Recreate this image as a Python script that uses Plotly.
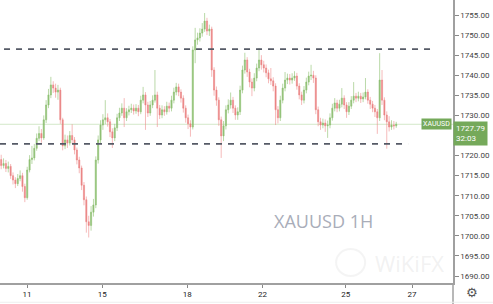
import plotly.graph_objects as go

# ---- data (2-hour bars) ----
opens = [1719.0,1717.5,1718.0,1716.8,1717.3,1715.0,1713.9,1713.0,1714.3,1715.0,
         1712.3,1709.5,1716.4,1719.0,1719.4,1721.8,1724.3,1725.5,1724.4,1728.9,
         1732.6,1735.1,1737.6,1736.8,1735.8,1736.3,1728.9,1722.4,1723.9,1723.1,
         1725.0,1723.9,1721.4,1718.9,1716.9,1712.6,1709.0,1703.5,1702.6,1705.9,
         1707.7,1718.9,1723.9,1727.6,1728.9,1729.4,1728.4,1725.9,1724.4,1726.9,
         1729.4,1730.6,1731.8,1729.4,1730.9,1731.4,1731.8,1731.1,1731.8,1730.9,
         1733.8,1735.1,1732.6,1730.6,1732.6,1733.8,1735.1,1731.8,1730.1,1731.4,
         1730.9,1732.3,1731.8,1733.8,1735.8,1737.1,1735.8,1734.3,1731.8,1729.4,
         1727.9,1727.1,1746.3,1748.8,1749.3,1750.5,1751.5,1753.5,1751.0,1751.5,
         1741.3,1736.3,1733.8,1728.9,1724.9,1727.4,1731.4,1732.6,1733.8,1731.8,
         1730.1,1730.9,1736.3,1741.3,1743.8,1740.8,1738.3,1736.8,1739.3,1741.8,
         1743.8,1742.6,1741.8,1740.6,1739.1,1738.6,1737.3,1731.4,1729.4,1733.8,
         1736.8,1738.8,1739.3,1738.8,1739.3,1739.8,1737.3,1735.1,1733.8,1736.3,
         1738.3,1739.8,1740.0,1739.3,1731.4,1728.4,1727.6,1728.1,1727.4,1727.6,
         1729.4,1731.8,1733.1,1731.8,1732.8,1734.3,1732.6,1730.9,1732.3,1733.8,
         1734.8,1734.3,1734.8,1734.1,1734.6,1735.8,1733.8,1732.8,1731.8,1730.9,
         1729.4,1738.8,1733.8,1730.1,1728.4,1727.1,1727.6,1727.4]
closes = [1717.5,1718.0,1716.8,1717.3,1715.0,1713.9,1713.0,1714.3,1715.0,1712.3,
          1709.5,1716.4,1719.0,1719.4,1721.8,1724.3,1725.5,1724.4,1728.9,1732.6,
          1735.1,1737.6,1736.8,1735.8,1736.3,1728.9,1722.4,1723.9,1723.1,1725.0,
          1723.9,1721.4,1718.9,1716.9,1712.6,1709.0,1703.5,1702.6,1705.9,1707.7,
          1718.9,1723.9,1727.6,1728.9,1729.4,1728.4,1725.9,1724.4,1726.9,1729.4,
          1730.6,1731.8,1729.4,1730.9,1731.4,1731.8,1731.1,1731.8,1730.9,1733.8,
          1735.1,1732.6,1730.6,1732.6,1733.8,1735.1,1731.8,1730.1,1731.4,1730.9,
          1732.3,1731.8,1733.8,1735.8,1737.1,1735.8,1734.3,1731.8,1729.4,1727.9,
          1727.1,1746.3,1748.8,1749.3,1750.5,1751.5,1753.5,1751.0,1751.5,1741.3,
          1736.3,1733.8,1728.9,1724.9,1727.4,1731.4,1732.6,1733.8,1731.8,1730.1,
          1730.9,1736.3,1741.3,1743.8,1740.8,1738.3,1736.8,1739.3,1741.8,1743.8,
          1742.6,1741.8,1740.6,1739.1,1738.6,1737.3,1731.4,1729.4,1733.8,1736.8,
          1738.8,1739.3,1738.8,1739.3,1739.8,1737.3,1735.1,1733.8,1736.3,1738.3,
          1739.8,1740.0,1739.3,1731.4,1728.4,1727.6,1728.1,1727.4,1727.6,1729.4,
          1731.8,1733.1,1731.8,1732.8,1734.3,1732.6,1730.9,1732.3,1733.8,1734.8,
          1734.3,1734.8,1734.1,1734.6,1735.8,1733.8,1732.8,1731.8,1730.9,1729.4,
          1738.8,1733.8,1730.1,1728.4,1727.1,1727.6,1727.4,1727.79]
highs = [1720.2,1719.3,1718.9,1718.5,1717.9,1715.8,1714.6,1715.4,1716.3,1715.7,
         1713.0,1717.2,1720.1,1722.4,1722.9,1725.5,1727.3,1726.6,1730.0,1733.8,
         1736.6,1739.6,1738.5,1737.9,1737.6,1736.9,1729.4,1725.2,1725.0,1726.1,
         1727.8,1724.6,1722.0,1719.7,1717.5,1713.4,1709.8,1705.0,1707.4,1709.2,
         1719.8,1725.0,1728.8,1730.3,1733.8,1730.5,1729.1,1726.8,1727.9,1730.4,
         1731.9,1733.0,1734.3,1731.8,1732.4,1732.9,1732.7,1732.8,1732.6,1734.9,
         1737.1,1735.8,1733.4,1733.6,1735.0,1741.3,1735.9,1732.6,1732.5,1732.3,
         1733.4,1733.2,1734.9,1736.9,1738.1,1737.9,1736.5,1735.0,1732.5,1730.2,
         1728.8,1747.2,1751.8,1750.6,1751.7,1753.0,1755.5,1754.3,1752.6,1752.1,
         1742.0,1737.2,1734.5,1729.7,1728.6,1732.5,1734.0,1735.7,1734.6,1732.5,
         1732.0,1737.4,1742.4,1745.6,1744.5,1741.6,1739.2,1740.5,1742.9,1746.8,
         1745.0,1743.6,1742.7,1741.4,1741.8,1739.5,1738.0,1732.3,1734.9,1737.9,
         1740.8,1740.4,1740.3,1740.5,1741.0,1740.6,1738.0,1735.9,1737.3,1739.4,
         1740.9,1742.6,1741.1,1740.0,1732.2,1729.4,1729.2,1729.0,1728.7,1730.5,
         1732.9,1734.3,1733.9,1733.9,1736.8,1735.0,1733.3,1733.3,1734.8,1738.3,
         1735.6,1735.9,1735.6,1735.7,1739.3,1736.5,1734.6,1733.6,1732.6,1731.6,
         1745.5,1741.3,1734.5,1731.0,1729.8,1728.8,1728.6,1728.4]
lows = [1716.6,1716.8,1715.9,1715.8,1714.2,1712.8,1711.9,1712.4,1713.6,1711.0,
        1708.4,1709.0,1715.8,1717.9,1718.8,1721.2,1723.6,1723.2,1723.9,1728.1,
        1731.8,1734.3,1735.6,1734.4,1733.9,1727.9,1721.3,1721.6,1721.9,1722.5,
        1723.0,1720.3,1717.8,1715.6,1711.4,1707.6,1700.8,1699.6,1701.3,1704.8,
        1706.9,1718.0,1722.9,1726.4,1727.8,1727.2,1724.6,1721.9,1723.6,1726.1,
        1728.6,1729.9,1727.1,1728.6,1730.0,1730.6,1730.2,1730.4,1729.8,1730.3,
        1733.0,1726.4,1729.6,1729.9,1731.8,1733.2,1727.1,1729.1,1729.3,1729.9,
        1730.2,1730.8,1731.0,1733.0,1735.0,1734.8,1733.2,1730.7,1728.2,1726.6,
        1724.7,1726.5,1743.0,1747.6,1748.4,1749.6,1750.8,1750.0,1749.8,1739.6,
        1734.9,1732.4,1727.4,1719.4,1723.6,1726.5,1730.5,1731.7,1730.6,1728.9,
        1728.9,1730.1,1735.5,1740.4,1739.6,1737.0,1734.8,1736.0,1738.5,1741.0,
        1741.4,1740.7,1739.5,1738.0,1737.6,1736.0,1727.6,1728.0,1728.6,1733.0,
        1736.0,1737.8,1737.7,1737.9,1738.6,1736.4,1734.0,1732.6,1733.0,1735.5,
        1737.5,1738.8,1738.1,1730.3,1727.3,1726.4,1726.8,1725.9,1724.4,1726.8,
        1728.7,1731.0,1730.8,1731.0,1732.0,1731.6,1729.4,1730.1,1731.6,1733.0,
        1733.3,1733.5,1733.1,1733.3,1734.0,1732.9,1731.6,1730.8,1729.6,1725.4,
        1728.6,1732.6,1728.8,1721.7,1726.0,1726.4,1726.5,1726.9]

day_labels = ["11", "15", "18", "22", "25", "27"]
day_positions = [10.94, 42.7, 78.7, 110.5, 145.7, 173.7]   # in bar units
# 1725.00 is hidden behind the last-price label in the reference
price_ticks = [1690, 1695, 1700, 1705, 1710, 1715, 1720,
               1730, 1735, 1740, 1745, 1750, 1755]
resistance = 1746.5
support = 1722.9
last_price = closes[-1]
symbol = "XAUUSD"
countdown = "32:03"

bars = list(range(len(closes)))

fig = go.Figure(go.Candlestick(
    x=bars, open=opens, high=highs, low=lows, close=closes,
    increasing=dict(line=dict(color="rgba(140,192,110,0.6)", width=1),
                    fillcolor="rgba(120,178,90,0.8)"),
    decreasing=dict(line=dict(color="rgba(236,130,130,0.55)", width=1),
                    fillcolor="rgba(228,105,105,0.8)"),
    whiskerwidth=0, hoverinfo="skip", showlegend=False,
))

X0, X1 = -0.5, 191.0
Y0, Y1 = 1688.26, 1758.74

shapes = [
    dict(type="line", xref="paper", x0=0, x1=1, yref="y", y0=last_price, y1=last_price,
         line=dict(color="rgba(130,185,100,0.35)", width=1), layer="below"),
    dict(type="line", xref="x", x0=1.2, x1=182.5, yref="y", y0=resistance, y1=resistance,
         line=dict(color="#555a66", width=1.6, dash="6px,6px")),
    dict(type="line", xref="x", x0=-0.5, x1=172.0, yref="y", y0=support, y1=support,
         line=dict(color="#555a66", width=1.6, dash="6px,6px")),
    dict(type="line", xref="paper", x0=1.0, x1=1.0, yref="paper", y0=-0.08, y1=0,
         line=dict(color="#a0a0a0", width=1.5)),
    dict(type="line", xref="paper", x0=0, x1=1.09, yref="paper", y0=-0.068, y1=-0.068,
         line=dict(color="#eeeeee", width=1)),
    dict(type="circle", xref="paper", yref="paper", x0=0.742, x1=0.806, y0=0.025, y1=0.12,
         line=dict(color="rgba(205,205,205,0.22)", width=2)),
]

annotations = [
    dict(text="XAUUSD 1H", xref="paper", x=0.7135, xanchor="center", yref="y", y=1703.7,
         yanchor="middle", showarrow=False,
         font=dict(family="Open Sans", size=18, color="#a9adb9")),
    dict(text="WiKiFX", xref="paper", x=0.905, xanchor="center", yref="paper", y=0.07,
         yanchor="middle", showarrow=False,
         font=dict(family="Open Sans", size=22, color="rgba(210,210,210,0.3)")),
    dict(text=symbol, xref="paper", x=0.9985, xanchor="right", yref="y", y=last_price,
         yanchor="middle", showarrow=False, bgcolor="#75a95a", borderpad=1,
         font=dict(family="Roboto", size=7, color="white")),
    dict(text=f"{last_price:.2f}<br>{countdown}", xref="paper", x=1.001, xanchor="left",
         yref="y", y=1728.6, yanchor="top", showarrow=False, bgcolor="#75a95a",
         borderpad=2, align="left",
         font=dict(family="Roboto", size=8, color="white")),
    dict(text="⚙", xref="paper", x=1.041, xanchor="center", yref="paper", y=-0.035,
         yanchor="middle", showarrow=False,
         font=dict(family="DejaVu Sans", size=13, color="#555")),
]

fig.update_layout(
    width=493, height=304,
    margin=dict(l=0, r=40, t=0, b=21),
    paper_bgcolor="white", plot_bgcolor="white",
    shapes=shapes, annotations=annotations,
    xaxis=dict(range=[X0, X1], rangeslider=dict(visible=False), showgrid=False,
               zeroline=False, showline=True, linecolor="#a0a0a0", linewidth=1.5,
               tickvals=day_positions, ticktext=day_labels, ticks="outside",
               ticklen=3, tickcolor="#888",
               tickfont=dict(family="Roboto", size=8, color="#222")),
    yaxis=dict(range=[Y0, Y1], side="right", showgrid=False, zeroline=False,
               showline=True, linecolor="#a0a0a0", linewidth=1.5,
               tickvals=price_ticks, ticktext=[f"{v:.2f}" for v in price_ticks],
               ticks="outside", ticklen=4, tickcolor="#888",
               tickfont=dict(family="Roboto", size=8, color="#444")),
)

fig.write_html("out.html")
